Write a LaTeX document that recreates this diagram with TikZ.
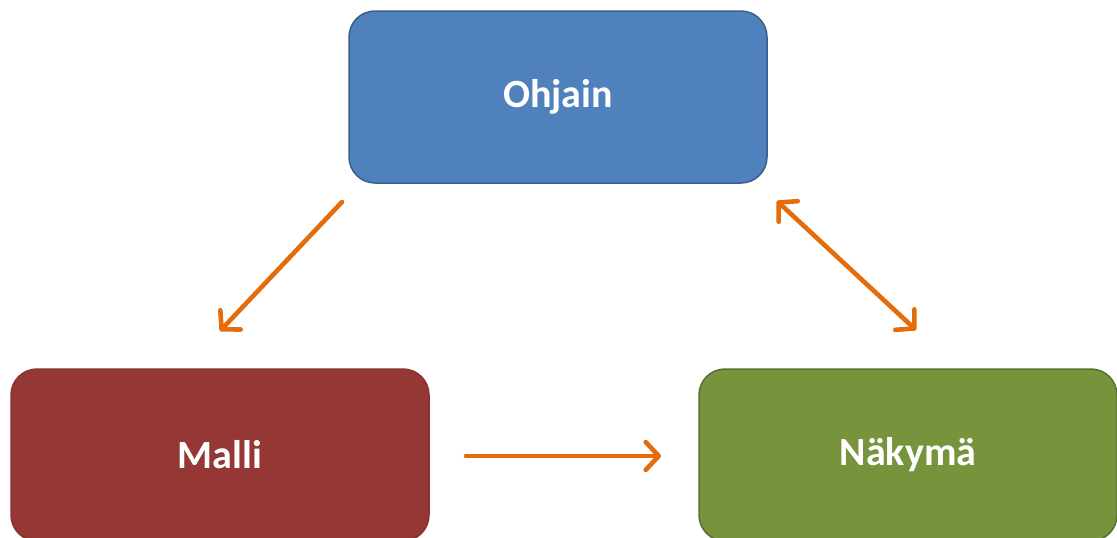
\documentclass[tikz,border=0pt]{standalone}
\usepackage{fontspec}
\setmainfont{Carlito}
\usetikzlibrary{arrows.meta}
\definecolor{bluefill}{HTML}{4F81BD}
\definecolor{blueline}{HTML}{3A5F8C}
\definecolor{redfill}{HTML}{953735}
\definecolor{redline}{HTML}{8A3331}
\definecolor{greenfill}{HTML}{77933C}
\definecolor{greenline}{HTML}{5A7030}
\definecolor{arrorange}{HTML}{E46C0A}
\tikzset{
  box/.style={rounded corners=26pt, line width=1.5pt, minimum width=418pt, minimum height=172pt,
    text=white, font=\fontsize{40}{46}\selectfont\bfseries, inner sep=0pt},
  conn/.style={draw=arrorange, line width=4.6pt, line cap=round,
    arrows={-Straight Barb[length=13pt,width=28pt,line width=4.6pt,round]}},
  conn2/.style={draw=arrorange, line width=4.6pt, line cap=round,
    arrows={Straight Barb[length=13pt,width=28pt,line width=4.6pt,round]-Straight Barb[length=13pt,width=28pt,line width=4.6pt,round]}}
}
\begin{document}
\begin{tikzpicture}[x=1pt,y=-1pt]
\useasboundingbox (0,0) rectangle (1117,538);
\node[box, fill=bluefill, draw=blueline] (ohjain) at (558,97) {Ohjain};
\node[box, fill=redfill, draw=redline] (malli) at (220,455) {Malli};
\node[box, fill=greenfill, draw=greenline] (nakyma) at (908,455) {Näkymä};
\coordinate (a1s) at (342,202);
\coordinate (a1e) at (220,331);
\coordinate (a2s) at (777,201);
\coordinate (a2e) at (916,330);
\coordinate (a3s) at (466,456);
\coordinate (a3e) at (661,456);
\draw[conn] (a1s) -- (a1e);
\draw[conn2] (a2s) -- (a2e);
\draw[conn] (a3s) -- (a3e);
\end{tikzpicture}
\end{document}
